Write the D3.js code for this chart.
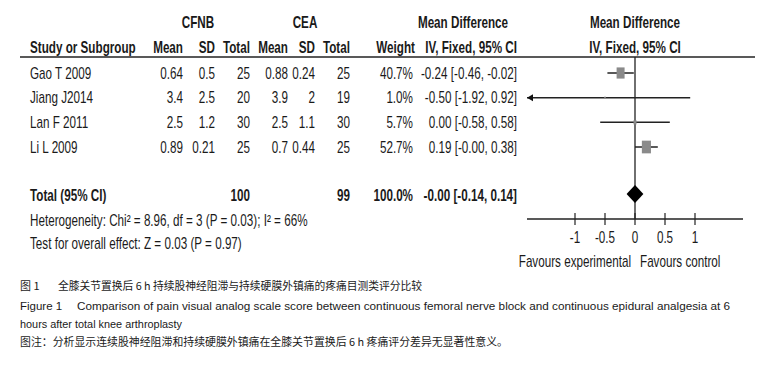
<!DOCTYPE html>
<html>
<head>
<meta charset="utf-8">
<script src="https://cdn.jsdelivr.net/npm/d3@7"></script>
<style>
  body { margin: 0; background: #fff; }
  svg text { fill: #1a1a1a; }
  .nar { font-family: "Liberation Sans", Arial, sans-serif; font-size: 16px; }
  .cap { font-family: "Liberation Sans", Arial, sans-serif; font-size: 11.5px; }
  .cjk { font-family: "Noto Sans CJK SC", sans-serif; font-size: 11px; }
</style>
</head>
<body>
<div id="chart"></div>
<script>
// Study data
const studies = ["Gao T 2009", "Jiang J2014", "Lan F 2011", "Li L 2009"];
const expMean = [0.64, 3.4, 2.5, 0.89];
const expSD = [0.5, 2.5, 1.2, 0.21];
const expN = [25, 20, 30, 25];
const ctrlMean = [0.88, 3.9, 2.5, 0.7];
const ctrlSD = [0.24, 2, 1.1, 0.44];
const ctrlN = [25, 19, 30, 25];
const weights = [40.7, 1.0, 5.7, 52.7];
const md = [-0.24, -0.50, 0.00, 0.19];
const ciLow = [-0.46, -1.92, -0.58, -0];
const ciHigh = [-0.02, 0.92, 0.58, 0.38];

// Pooled result
const totalExpN = 100;
const totalCtrlN = 99;
const totalMD = -0, totalLow = -0.14, totalHigh = 0.14;

const axisTicks = [-1, -0.5, 0, 0.5, 1];
const axisDomain = [-1.8, 1.8];

const width = 760, height = 365;
const squeeze = 0.73; // narrow font look

const svg = d3.select("#chart").append("svg")
    .attr("width", width)
    .attr("height", height);

// number formatting like RevMan (keeps "-0.00")
const f2 = v => ((v < 0 || Object.is(v, -0)) ? "-" : "") + Math.abs(v).toFixed(2);
const ciText = (m, l, h) => `${f2(m)} [${f2(l)}, ${f2(h)}]`;

const x = d3.scaleLinear().domain(axisDomain).range([527, 743]);
const y = d3.scaleLinear().domain([0, studies.length - 1]).range([73, 147]);
const side = d3.scaleSqrt().domain([0, 100]).range([0, 12.5]);

function label(t, px, py, anchor, bold) {
    return svg.append("text")
        .attr("class", "nar")
        .attr("transform", `translate(${px},${py}) scale(${squeeze},1)`)
        .attr("dy", "0.36em")
        .attr("text-anchor", anchor || "start")
        .style("font-weight", bold ? "bold" : null)
        .text(t);
}

// Header
label("CFNB", 198, 22, "middle", true);
label("CEA", 305, 22, "middle", true);
label("Mean Difference", 463, 22, "middle", true);
label("Mean Difference", 635, 22, "middle", true);

const cols = [
    { name: "Mean", right: 183 },
    { name: "SD", right: 215 },
    { name: "Total", right: 250 },
    { name: "Mean", right: 288 },
    { name: "SD", right: 315 },
    { name: "Total", right: 350 },
    { name: "Weight", right: 415, val: 413 },
    { name: "IV, Fixed, 95% CI", right: 517 }
];
label("Study or Subgroup", 30, 47, "start", true);
cols.forEach(c => label(c.name, c.right, 47, "end", true));
label("IV, Fixed, 95% CI", 635, 47, "middle", true);

svg.append("line")
    .attr("x1", 20).attr("x2", 755)
    .attr("y1", 57).attr("y2", 57)
    .attr("stroke", "#222").attr("stroke-width", 1.5);

// Study rows
studies.forEach((s, i) => {
    const vals = [expMean[i], expSD[i], expN[i], ctrlMean[i], ctrlSD[i], ctrlN[i],
        weights[i].toFixed(1) + "%", ciText(md[i], ciLow[i], ciHigh[i])];
    label(s, 30, y(i), "start");
    vals.forEach((v, j) => label(v, cols[j].val || cols[j].right, y(i), "end"));
});

// Total row
const yTot = 195;
label("Total (95% CI)", 30, yTot, "start", true);
label(totalExpN, cols[2].right, yTot, "end", true);
label(totalCtrlN, cols[5].right, yTot, "end", true);
label("100.0%", cols[6].val, yTot, "end", true);
label(ciText(totalMD, totalLow, totalHigh), cols[7].right, yTot, "end", true);

label("Heterogeneity: Chi\u00b2 = 8.96, df = 3 (P = 0.03); I\u00b2 = 66%", 30, 220, "start");
label("Test for overall effect: Z = 0.03 (P = 0.97)", 30, 243, "start");

// Plot: zero line
const axisY = 219;
svg.append("line")
    .attr("x1", x(0)).attr("x2", x(0))
    .attr("y1", 57).attr("y2", axisY)
    .attr("stroke", "#222").attr("stroke-width", 1.3);

// CI lines and weighted squares
const plot = svg.append("g");
studies.forEach((s, i) => {
    const lo = Math.max(ciLow[i], axisDomain[0]);
    const hi = Math.min(ciHigh[i], axisDomain[1]);
    plot.append("line")
        .attr("x1", x(lo)).attr("x2", x(hi))
        .attr("y1", y(i)).attr("y2", y(i))
        .attr("stroke", "#222").attr("stroke-width", 1.5);
    if (ciLow[i] < axisDomain[0]) {
        const ax = x(axisDomain[0]);
        plot.append("path")
            .attr("d", `M${ax},${y(i)} L${ax + 6},${y(i) - 3.5} L${ax + 6},${y(i) + 3.5} Z`)
            .attr("fill", "#111");
    }
    const w = Math.max(side(weights[i]), 1.5);
    const h = w * 1.4;
    plot.append("rect")
        .attr("x", x(md[i]) - w / 2)
        .attr("y", y(i) - h / 2)
        .attr("width", w)
        .attr("height", h)
        .attr("fill", "#8a8a8a");
});

// Pooled diamond
const dh = 9;
plot.append("path")
    .attr("d", `M${x(totalLow)},${yTot - 1} L${x(totalMD)},${yTot - 1 - dh} L${x(totalHigh)},${yTot - 1} L${x(totalMD)},${yTot - 1 + dh} Z`)
    .attr("fill", "#000");

// Axis
svg.append("line")
    .attr("x1", x(axisDomain[0])).attr("x2", x(axisDomain[1]))
    .attr("y1", axisY).attr("y2", axisY)
    .attr("stroke", "#222").attr("stroke-width", 1.5);
axisTicks.forEach(t => {
    svg.append("line")
        .attr("x1", x(t)).attr("x2", x(t))
        .attr("y1", axisY - 6).attr("y2", axisY + 6)
        .attr("stroke", "#222").attr("stroke-width", 1.2);
    label(String(t), x(t), 237, "middle");
});
label("Favours experimental", x(0) - 4, 261, "end");
label("Favours control", x(0) + 5, 261, "start");

// Caption
function cap(t, px, py, cls, len) {
    const el = svg.append("text")
        .attr("class", cls)
        .attr("x", px).attr("y", py)
        .attr("dy", "0.36em")
        .text(t);
    if (len) el.attr("textLength", len).attr("lengthAdjust", "spacingAndGlyphs");
    return el;
}
cap("图 1", 20, 286, "cjk");
cap("全膝关节置换后 6 h 持续股神经阻滞与持续硬膜外镇痛的疼痛目测类评分比较", 58, 286, "cjk", 364);
cap("Figure 1", 20, 306, "cap");
cap("Comparison of pain visual analog scale score between continuous femoral nerve block and continuous epidural analgesia at 6", 77, 306, "cap", 653);
cap("hours after total knee arthroplasty", 20, 324, "cap", 162);
cap("图注：分析显示连续股神经阻滞和持续硬膜外镇痛在全膝关节置换后 6 h 疼痛评分差异无显著性意义。", 20, 342, "cjk", 488);
</script>
</body>
</html>
